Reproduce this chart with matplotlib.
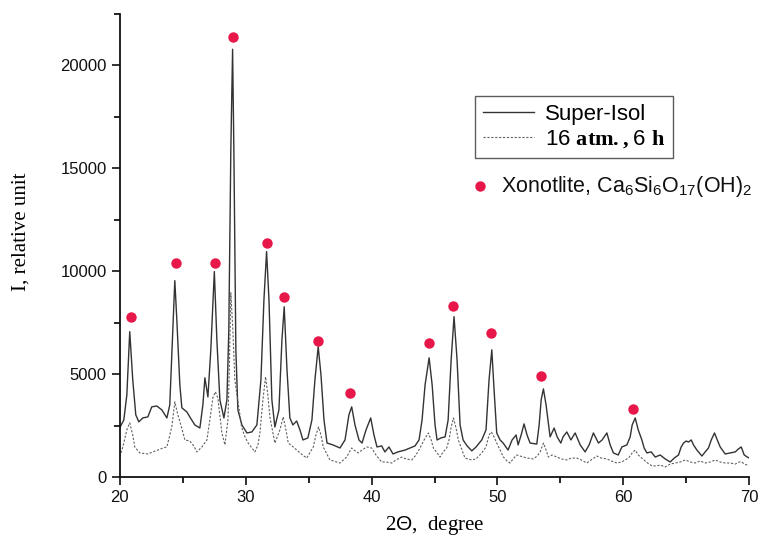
import matplotlib
matplotlib.use("Agg")
import matplotlib.pyplot as plt
from matplotlib.ticker import MultipleLocator

plt.rcParams['font.family'] = ['Liberation Sans', 'DejaVu Sans']
plt.rcParams['mathtext.fontset'] = 'custom'
plt.rcParams['mathtext.rm'] = 'Liberation Sans'
plt.rcParams['mathtext.bf'] = 'Liberation Serif:bold'

# Super-Isol (solid)
x_super = [20.00, 20.32, 20.56, 20.79, 21.03, 21.27, 21.51, 21.83, 22.23, 22.54,
           22.94, 23.34, 23.74, 23.97, 24.21, 24.37, 24.53, 24.77, 24.93, 25.33,
           25.56, 25.96, 26.36, 26.60, 26.76, 27.00, 27.23, 27.51, 27.71, 27.95,
           28.27, 28.51, 28.66, 28.82, 28.96, 29.06, 29.22, 29.38, 29.70, 30.10,
           30.49, 30.89, 31.21, 31.45, 31.66, 31.85, 32.08, 32.32, 32.64, 32.88,
           33.06, 33.28, 33.51, 33.75, 34.05, 34.31, 34.55, 34.94, 35.26, 35.50,
           35.76, 35.98, 36.22, 36.46, 36.93, 37.49, 37.89, 38.20, 38.42, 38.68,
           39.00, 39.24, 39.56, 39.93, 40.19, 40.43, 40.80, 41.06, 41.38, 41.70,
           42.10, 42.66, 43.05, 43.45, 43.77, 44.01, 44.25, 44.57, 44.81, 45.04,
           45.20, 45.52, 45.84, 46.08, 46.32, 46.55, 46.79, 47.03, 47.27, 47.59,
           47.96, 48.30, 48.75, 49.09, 49.33, 49.55, 49.73, 49.94, 50.21, 50.45,
           50.84, 51.16, 51.48, 51.64, 51.88, 52.11, 52.35, 52.59, 53.12, 53.31,
           53.47, 53.65, 53.86, 54.18, 54.50, 54.74, 55.03, 55.21, 55.51, 55.83,
           56.17, 56.57, 56.96, 57.28, 57.62, 58.02, 58.31, 58.69, 58.95, 59.21,
           59.59, 59.88, 60.28, 60.54, 60.70, 60.94, 61.18, 61.47, 61.65, 61.87,
           62.21, 62.53, 62.92, 63.32, 63.72, 64.04, 64.38, 64.59, 64.78, 64.99,
           65.17, 65.39, 65.57, 65.84, 66.24, 66.50, 66.76, 66.98, 67.24, 67.46,
           67.69, 68.09, 68.49, 68.89, 69.13, 69.36, 69.60, 69.84, 70.00]
y_super = [2400, 2770, 3990, 7060, 4720, 3020, 2680, 2870, 2920, 3410,
           3450, 3260, 2870, 3500, 7150, 9540, 7640, 4480, 3360, 3160,
           2920, 2530, 2380, 3500, 4820, 3890, 6180, 9980, 6670, 3750,
           2870, 3750, 7150, 15910, 20780, 15910, 6180, 3260, 2530, 2140,
           2190, 2530, 4720, 8610, 10950, 8610, 3750, 2430, 3260, 6670,
           8270, 5210, 2870, 2530, 2720, 2290, 1800, 1900, 2770, 4720,
           6330, 4960, 2770, 1650, 1560, 1410, 1800, 3020, 3410, 2530,
           1800, 1650, 2290, 2870, 2040, 1460, 1510, 1220, 1460, 1120,
           1220, 1310, 1410, 1510, 1800, 2770, 4480, 5790, 4480, 2530,
           1800, 1900, 1950, 2770, 5690, 7790, 5690, 2530, 1800, 1510,
           1270, 1460, 1800, 2290, 4720, 6180, 4230, 2140, 1800, 1650,
           1310, 1800, 2040, 1560, 2040, 2580, 2040, 1650, 1600, 2530,
           3750, 4280, 3500, 1950, 2380, 1950, 1650, 1950, 2190, 1800,
           2140, 1560, 1220, 1560, 2140, 1650, 1800, 2140, 1560, 1170,
           1070, 1460, 1560, 1950, 2530, 2870, 2290, 1800, 1410, 1170,
           1220, 970, 1070, 880, 730, 920, 1070, 1460, 1650, 1750,
           1700, 1800, 1560, 1310, 1020, 1220, 1410, 1800, 2140, 1800,
           1460, 1120, 1170, 1220, 1360, 1460, 1070, 970, 920]

# 16 atm., 6 h (dashed)
x_16atm = [20.00, 20.24, 20.56, 20.79, 21.03, 21.19, 21.59, 22.23, 22.62, 23.02,
           23.42, 23.74, 24.13, 24.37, 24.61, 24.85, 25.17, 25.56, 25.88, 26.12,
           26.52, 26.92, 27.15, 27.39, 27.59, 27.79, 28.11, 28.35, 28.59, 28.70,
           28.82, 28.98, 29.14, 29.28, 29.54, 29.67, 29.94, 30.20, 30.73, 30.97,
           31.13, 31.37, 31.58, 31.76, 31.92, 32.32, 32.72, 32.98, 33.20, 33.38,
           33.78, 34.31, 34.84, 35.37, 35.58, 35.79, 35.98, 36.16, 36.69, 37.49,
           38.02, 38.42, 38.60, 38.94, 39.24, 39.61, 40.01, 40.35, 40.80, 41.14,
           41.60, 41.94, 42.39, 42.73, 43.19, 43.53, 43.85, 44.17, 44.51, 44.73,
           44.91, 45.44, 45.68, 45.97, 46.15, 46.31, 46.50, 46.71, 46.89, 47.19,
           47.42, 47.96, 48.30, 48.75, 49.09, 49.33, 49.51, 49.73, 49.94, 50.21,
           50.47, 50.76, 51.00, 51.24, 51.53, 51.80, 52.06, 52.43, 52.85, 53.15,
           53.39, 53.65, 53.86, 54.05, 54.34, 54.71, 55.06, 55.51, 55.85, 56.30,
           56.65, 57.10, 57.44, 57.89, 58.24, 58.69, 59.03, 59.48, 59.88, 60.14,
           60.41, 60.70, 60.94, 61.18, 61.47, 61.81, 62.27, 62.61, 62.93, 63.32,
           63.72, 64.12, 64.52, 64.91, 65.31, 65.71, 66.10, 66.50, 66.90, 67.30,
           67.69, 68.09, 68.49, 68.89, 69.21, 69.42, 69.60, 69.84, 70.00]
y_16atm = [990, 1460, 2290, 2630, 2040, 1460, 1170, 1120, 1220, 1310,
           1410, 1460, 2430, 3650, 3020, 2530, 1800, 1750, 1510, 1220,
           1460, 1800, 2770, 3840, 4140, 3840, 2140, 1560, 2770, 5210,
           8950, 7150, 4720, 4090, 3020, 2430, 1950, 1650, 1220, 1560,
           2140, 3750, 4870, 3990, 2920, 1650, 2290, 2920, 2290, 1650,
           1460, 1170, 920, 1460, 2040, 2430, 2040, 1460, 830, 680,
           970, 1410, 1310, 1170, 1310, 1460, 1410, 1070, 730, 730,
           680, 830, 970, 880, 830, 1070, 1410, 1800, 2140, 1800,
           1410, 970, 1220, 1410, 1800, 2380, 2870, 2380, 1800, 1310,
           920, 830, 880, 1170, 1460, 2040, 2190, 1950, 1650, 1310,
           970, 780, 680, 880, 1070, 1020, 970, 920, 880, 1020,
           1220, 1650, 1310, 970, 1070, 970, 880, 830, 920, 920,
           830, 680, 830, 1020, 920, 880, 780, 680, 730, 830,
           920, 1170, 1310, 1070, 920, 730, 540, 540, 580, 490,
           630, 680, 730, 830, 730, 680, 780, 680, 730, 830,
           730, 680, 680, 630, 730, 730, 630, 580, 580]

# Xonotlite reflections (markers)
x_xono = [20.87, 24.45, 27.55, 28.98, 31.69, 33.04, 35.74, 38.28, 44.56, 46.47, 49.49, 53.47, 60.78]
y_xono = [7790, 10410, 10410, 21360, 11390, 8760, 6620, 4090, 6520, 8320, 7010, 4910, 3310]

xticks = [20, 30, 40, 50, 60, 70]
yticks = [0, 5000, 10000, 15000, 20000]

red = '#e8174a'

fig = plt.figure(figsize=(7.63, 5.53), dpi=100)
ax = fig.add_axes([0.157, 0.1374, 0.825, 0.8376])

ax.plot(x_super, y_super, color='#333333', lw=1.0, label='Super-Isol')
ax.plot(x_16atm, y_16atm, color='#606060', lw=0.8, linestyle=(0, (2, 1.5)),
        label=r'16 $\mathbf{atm.,}$6 $\mathbf{h}$')
ax.plot(x_xono, y_xono, 'o', color=red, markersize=7.5, markeredgewidth=0, zorder=5)

ax.set_xlim(20, 70)
ax.set_ylim(0, 22500)
ax.set_xticks(xticks)
ax.set_yticks(yticks)
ax.xaxis.set_minor_locator(MultipleLocator(5))
ax.yaxis.set_minor_locator(MultipleLocator(2500))
ax.tick_params(which='major', direction='out', length=6, width=1.2, labelsize=12, colors='#111111')
ax.tick_params(which='minor', direction='out', length=4, width=1.2)

for s in ['top', 'right']:
    ax.spines[s].set_visible(False)
for s in ['left', 'bottom']:
    ax.spines[s].set_linewidth(1.3)
    ax.spines[s].set_color('#111111')

ax.set_xlabel(r'2$\Theta$,  degree', family='Liberation Serif', fontsize=15, labelpad=6)
ax.set_ylabel('I, relative unit', family='Liberation Serif', fontsize=15)
ax.yaxis.set_label_coords(-0.142, 0.53)

leg = ax.legend(loc='upper left', bbox_to_anchor=(0.564, 0.823), borderaxespad=0,
                fontsize=16, frameon=True, fancybox=False, edgecolor='#333333',
                handlelength=2.3, handletextpad=0.5, borderpad=0.35, labelspacing=0.15)
leg.get_frame().set_linewidth(1.0)

ax.plot([0.572], [0.628], 'o', color=red, markersize=7.5, markeredgewidth=0,
        transform=ax.transAxes, clip_on=False)
ax.text(0.605, 0.628, r'Xonotlite, Ca$_6$Si$_6$O$_{17}$(OH)$_2$', transform=ax.transAxes,
        fontsize=15.5, va='center', ha='left', color='#111111')

fig.savefig('out.png', dpi=100)
